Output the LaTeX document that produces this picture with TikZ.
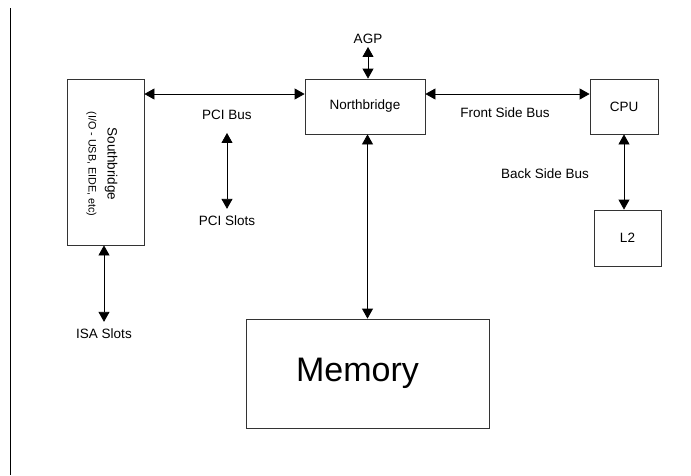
\documentclass[tikz,border=0pt]{standalone}
\usepackage{fontspec}
\setmainfont{Liberation Sans}
\usepackage{tikz}
\usetikzlibrary{arrows.meta}
\usetikzlibrary{positioning}

\tikzset{
  chip/.style={draw=black!80, line width=0.8pt, inner sep=0pt, font=\fontsize{13.5}{16}\selectfont},
  lbl/.style={inner sep=1pt, font=\fontsize{13.5}{16}\selectfont},
  bus/.style={line width=0.8pt, {Triangle[length=10pt,width=11pt]}-{Triangle[length=10pt,width=11pt]}}
}

\begin{document}
\begin{tikzpicture}[x=1pt,y=-1pt]
\useasboundingbox (0,0) rectangle (691,475);
\draw [line width=0.8pt] (10,8) -- (10,475);

\node [chip, minimum width=77pt, minimum height=166pt] (sb) at (105.5,162) {};
\node [rotate=-90, align=center, font=\fontsize{13.5}{19}\selectfont] (sbtext) at (102,164) {Southbridge\\{\fontsize{10.8}{19}\selectfont (I/O - USB, EIDE, etc)}};
\node [chip, minimum width=120pt, minimum height=55pt] (nb) at (365,106.5) {Northbridge};
\node [chip, minimum width=68pt, minimum height=55pt] (cpu) at (624,106.5) {CPU};
\node [chip, minimum width=67pt, minimum height=56pt] (l2) at (627.5,238) {L2};
\node [chip, minimum width=243pt, minimum height=109pt] (memory) at (367.5,373.5) {};
\node [font=\fontsize{34}{40}\selectfont] (memtext) at (357.5,373) {Memory};

\node [lbl] (pcibus) at (227,115) {PCI Bus};
\node [lbl] (pcislots) at (227,221) {PCI Slots};
\node [lbl] (agp) at (368,39) {AGP};
\node [lbl] (fsb) at (505,113) {Front Side Bus};
\node [lbl] (bsb) at (545,174) {Back Side Bus};
\node [lbl] (isa) at (104,334) {ISA Slots};

\draw [bus] (sb.east |- 0,94) -- (nb.west |- 0,94);
\draw [bus] (nb.east |- 0,94) -- (cpu.west |- 0,94);
\draw [bus] (pcibus.south) ++(0,12) -- ([yshift=6pt]pcislots.north);
\draw [bus] (agp.south) ++(0,2) -- (agp.south |- nb.north);
\draw [bus] (memory.north) -- (memory.north |- nb.south);
\draw [bus] (isa.north |- sb.south) -- ([yshift=6pt]isa.north);
\draw [bus] (cpu.south) -- (cpu.south |- l2.north);
\end{tikzpicture}
\end{document}
